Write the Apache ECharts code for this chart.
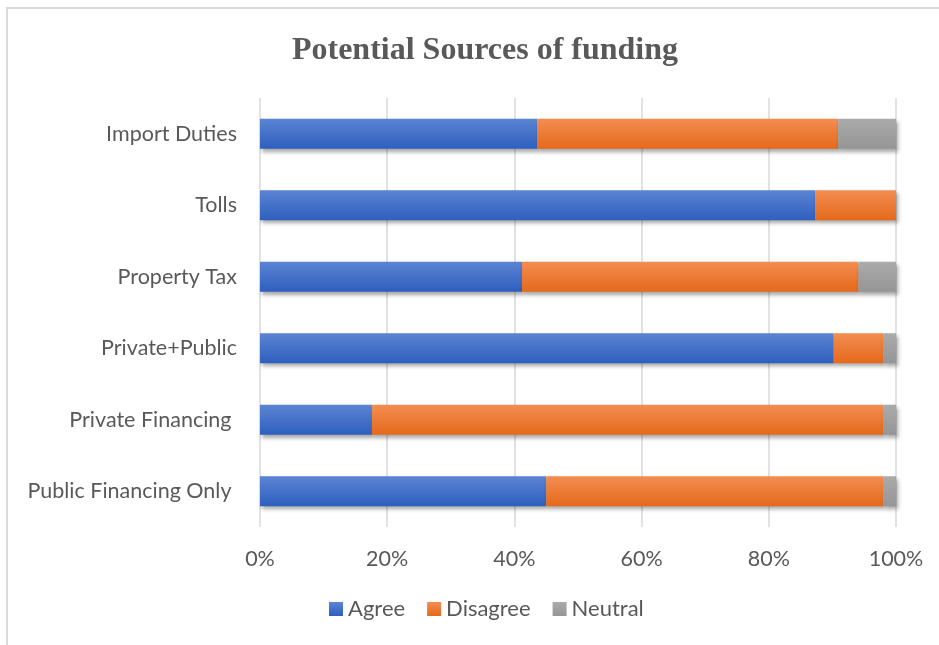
<!DOCTYPE html>
<html>
<head>
<meta charset="utf-8">
<script src="https://cdn.jsdelivr.net/npm/echarts@6/dist/echarts.min.js"></script>
<style>
  html, body { margin: 0; padding: 0; background: #fff; }
  #chart { width: 939px; height: 645px; }
</style>
</head>
<body>
<div id="chart"></div>
<script>
// Survey responses per funding source (share of respondents, %)
const categories = ['Public Financing Only ', 'Private Financing ', 'Private+Public', 'Property Tax', 'Tolls', 'Import Duties'];
const agree    = [45.0, 17.6, 90.2, 41.2, 87.3, 43.6];
const disagree = [53.0, 80.4, 7.8, 52.9, 12.7, 47.3];
const neutral  = [2.0, 2.0, 2.0, 5.9, 0, 9.1];
const tickLabels = ['0%', '20%', '40%', '60%', '80%', '100%'];

const textColor = '#595959';
const labelFont = 'Lato, "Open Sans", sans-serif';

function grad(top, bottom) {
  return new echarts.graphic.LinearGradient(0, 0, 0, 1, [
    { offset: 0, color: top },
    { offset: 1, color: bottom }
  ]);
}

function barSeries(name, data, top, bottom) {
  return {
    name: name,
    type: 'bar',
    stack: 'total',
    barWidth: 30,
    data: data,
    itemStyle: {
      color: grad(top, bottom),
      shadowColor: 'rgba(0,0,0,0.35)',
      shadowBlur: 4,
      shadowOffsetX: 2,
      shadowOffsetY: 3
    },
    emphasis: { disabled: true }
  };
}

const chart = echarts.init(document.getElementById('chart'), null, { renderer: 'canvas' });
chart.setOption({
  animation: false,
  backgroundColor: '#ffffff',
  graphic: [{
    type: 'rect',
    shape: { x: 7, y: 8, width: 960, height: 660 },
    style: { fill: 'none', stroke: '#d9d9d9', lineWidth: 2 },
    silent: true,
    z: -1
  }],
  title: {
    text: 'Potential Sources of funding',
    left: 480,
    textAlign: 'center',
    top: 30,
    textStyle: {
      fontFamily: '"Liberation Serif", "Times New Roman", serif',
      fontWeight: 'bold',
      fontSize: 32,
      color: textColor
    }
  },
  legend: {
    bottom: 20,
    left: 324,
    icon: 'rect',
    itemWidth: 14,
    itemHeight: 14,
    itemGap: 22,
    textStyle: { fontFamily: labelFont, fontSize: 22, color: textColor },
    data: ['Agree', 'Disagree', 'Neutral']
  },
  grid: { left: 260, right: 43, top: 98, bottom: 118, containLabel: false },
  xAxis: {
    type: 'value',
    min: 0,
    max: 100,
    interval: 20,
    axisLine: { show: false },
    axisTick: { show: false },
    splitLine: { lineStyle: { color: '#d9d9d9', width: 1.5 } },
    axisLabel: {
      margin: 21,
      fontFamily: labelFont,
      fontSize: 21.5,
      color: textColor,
      formatter: function (v) { return tickLabels[Math.round(v / 20)]; }
    }
  },
  yAxis: {
    type: 'category',
    data: categories,
    axisLine: { show: false },
    axisTick: { show: false },
    axisLabel: {
      margin: 23,
      fontFamily: labelFont,
      fontSize: 21.5,
      color: textColor
    }
  },
  series: [
    barSeries('Agree', agree, '#5b84d3', '#2e5fbe'),
    barSeries('Disagree', disagree, '#f38d52', '#e5691b'),
    barSeries('Neutral', neutral, '#ababab', '#959595')
  ]
});
</script>
</body>
</html>
